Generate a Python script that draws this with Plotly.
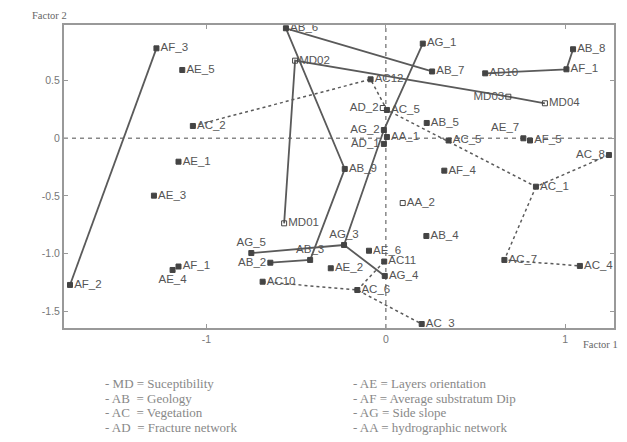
import plotly.graph_objects as go

# ---- data ----
ids = ["AF_3", "AE_5", "AC_2", "AE_1", "AE_3", "AF_1a", "AE_4", "AF_2",
       "AB_6", "MD02", "MD01", "AB_9", "AG_5", "AB_2", "AB_3", "AG_3",
       "AC10", "AE_2", "AC_6", "AE_6", "AC11", "AG_4", "AC_3", "AC12",
       "AD_2", "AC_5a", "AG_1", "AB_7", "AD10", "MD03", "MD04", "AB_8",
       "AF_1b", "AB_5", "AG_2", "AA_1", "AD_1", "AC_5b", "AF_4", "AE_7",
       "AF_5", "AC_8", "AC_1", "AA_2", "AB_4", "AC_7", "AC_4"]
labels = ["AF_3", "AE_5", "AC_2", "AE_1", "AE_3", "AF_1", "AE_4", "AF_2",
          "AB_6", "MD02", "MD01", "AB_9", "AG_5", "AB_2", "AB_3", "AG_3",
          "AC10", "AE_2", "AC_6", "AE_6", "AC11", "AG_4", "AC_3", "AC12",
          "AD_2", "AC_5", "AG_1", "AB_7", "AD10", "MD03", "MD04", "AB_8",
          "AF_1", "AB_5", "AG_2", "AA_1", "AD_1", "AC_5", "AF_4", "AE_7",
          "AF_5", "AC_8", "AC_1", "AA_2", "AB_4", "AC_7", "AC_4"]
factor1 = [-1.279, -1.135, -1.076, -1.156, -1.293, -1.156, -1.189, -1.761,
           -0.557, -0.506, -0.567, -0.229, -0.750, -0.644, -0.422, -0.233,
           -0.687, -0.307, -0.159, -0.094, -0.009, -0.006, 0.200, -0.085,
           -0.017, 0.006, 0.206, 0.258, 0.554, 0.683, 0.887, 1.044,
           1.007, 0.228, -0.011, 0.006, -0.011, 0.350, 0.326, 0.767,
           0.804, 1.244, 0.837, 0.094, 0.226, 0.661, 1.082]
factor2 = [0.781, 0.593, 0.107, -0.203, -0.498, -1.113, -1.143, -1.273,
           0.955, 0.674, -0.738, -0.266, -0.996, -1.080, -1.056, -0.926,
           -1.245, -1.128, -1.317, -0.976, -1.070, -1.195, -1.612, 0.512,
           0.263, 0.246, 0.822, 0.580, 0.564, 0.361, 0.304, 0.773,
           0.599, 0.133, 0.072, 0.011, -0.049, -0.019, -0.281, 0.000,
           -0.019, -0.145, -0.420, -0.562, -0.848, -1.056, -1.108]
open_markers = ["MD01", "MD02", "MD03", "MD04", "AD_2", "AA_2"]
label_pos = {"AE_4": "bottom center", "AG_5": "top center", "AB_2": "middle left",
             "AB_3": "top center", "AG_3": "top center", "AD_2": "middle left",
             "AG_2": "middle left", "AD_1": "middle left", "AE_7": "top left",
             "AC_8": "middle left", "MD03": "middle left"}

solid_paths = [["AF_2", "AF_3"],
               ["AB_7", "AB_6", "AB_9", "AB_3", "AB_2"],
               ["MD01", "MD02", "MD03", "MD04"],
               ["AG_1", "AG_2", "AG_3", "AG_4"],
               ["AG_5", "AG_3"],
               ["AD10", "AF_1b", "AB_8"]]
dotted_paths = [["AC_2", "AC12", "AC_5a", "AC_1", "AC_8"],
                ["AC_1", "AC_7", "AC_4"],
                ["AC10", "AC_6", "AC_3"],
                ["AC_6", "AC11"]]

legend_left = ["- MD = Suceptibility", "- AB  = Geology", "- AC  = Vegetation",
               "- AD  = Fracture network"]
legend_right = ["- AE = Layers orientation", "- AF = Average substratum Dip",
                "- AG = Side slope", "- AA = hydrographic network"]

# ---- figure ----
# page body has an 8px margin: shrink the figure so the plot lands where the reference has it
OFF = 8
W, H = 627 - OFF, 442 - OFF
L, R, T, B = 64 - OFF, 11, 25 - OFF, 114
idx = {k: i for i, k in enumerate(ids)}
fig = go.Figure()

for path, dash, width in [(p, "solid", 1.8) for p in solid_paths] + \
                         [(p, "dot", 1.5) for p in dotted_paths]:
    fig.add_trace(go.Scatter(
        x=[factor1[idx[k]] for k in path], y=[factor2[idx[k]] for k in path],
        mode="lines", line=dict(color="#5a5a5a", width=width, dash=dash),
        hoverinfo="skip", showlegend=False))

fig.add_trace(go.Scatter(
    x=factor1, y=factor2, mode="markers+text", text=labels,
    textposition=[label_pos.get(lab, "middle right") for lab in labels],
    textfont=dict(family="Liberation Sans, Arial, sans-serif", size=11.5, color="#555"),
    marker=dict(symbol=["square-open" if lab in open_markers else "square" for lab in labels],
                size=5, color="#444", line=dict(color="#444", width=1)),
    showlegend=False, cliponaxis=False))

# pixel calibration of the reference (page coords): x0=387, 180 px/unit; y0=138.3, 115.2 px/unit
x_rng = [(64 - 387) / 180, (616 - 387) / 180]
y_rng = [(138.3 - 328) / 115.2, (138.3 - 25) / 115.2]

axis_common = dict(showgrid=False, showline=True, linecolor="#999", linewidth=2,
                   mirror="ticks", ticks="inside", ticklen=4, tickcolor="#999",
                   tickfont=dict(family="Liberation Sans, Arial, sans-serif", size=10.5, color="#777"),
                   zeroline=False)
fig.update_xaxes(range=x_rng, tickvals=[-1, 0, 1], ticktext=["-1", "0", "1"], **axis_common)
fig.update_yaxes(range=y_rng, tickvals=[0.5, 0, -0.5, -1, -1.5],
                 ticktext=["0.5", "0", "-0.5", "-1.0", "-1.5"], **axis_common)

fig.add_shape(type="line", x0=0, x1=0, y0=y_rng[0], y1=y_rng[1], xref="x", yref="y",
              line=dict(color="#888", width=1.5, dash="4px,4px"), layer="below")
fig.add_shape(type="line", x0=x_rng[0], x1=x_rng[1], y0=0, y1=0, xref="x", yref="y",
              line=dict(color="#888", width=1.5, dash="4px,4px"), layer="below")

pw, ph = W - L - R, H - T - B
def px_to_paper(px, py):
    # reference page pixel -> paper coords of this figure
    return (px - OFF - L) / pw, ((H - B) - (py - OFF)) / ph

serif = "Liberation Serif, Times New Roman, serif"
ax, ay = px_to_paper(30, 15)
fig.add_annotation(x=ax, y=ay, xref="paper", yref="paper", text="Factor 2", showarrow=False,
                   xanchor="left", yanchor="middle", font=dict(family=serif, size=10.5, color="#666"))
ax, ay = px_to_paper(583, 345)
fig.add_annotation(x=ax, y=ay, xref="paper", yref="paper", text="Factor 1", showarrow=False,
                   xanchor="left", yanchor="middle", font=dict(family=serif, size=10.5, color="#666"))

rows_y = [383, 398, 412, 427]
for col_x, texts in [(103, legend_left), (352, legend_right)]:
    for ty, t in zip(rows_y, texts):
        ax, ay = px_to_paper(col_x, ty)
        fig.add_annotation(x=ax, y=ay, xref="paper", yref="paper", text=t, showarrow=False,
                           xanchor="left", yanchor="middle",
                           font=dict(family=serif, size=13, color="#888"))

fig.update_layout(width=W, height=H, margin=dict(l=L, r=R, t=T, b=B),
                  plot_bgcolor="white", paper_bgcolor="white")
fig.write_html("out.html")
